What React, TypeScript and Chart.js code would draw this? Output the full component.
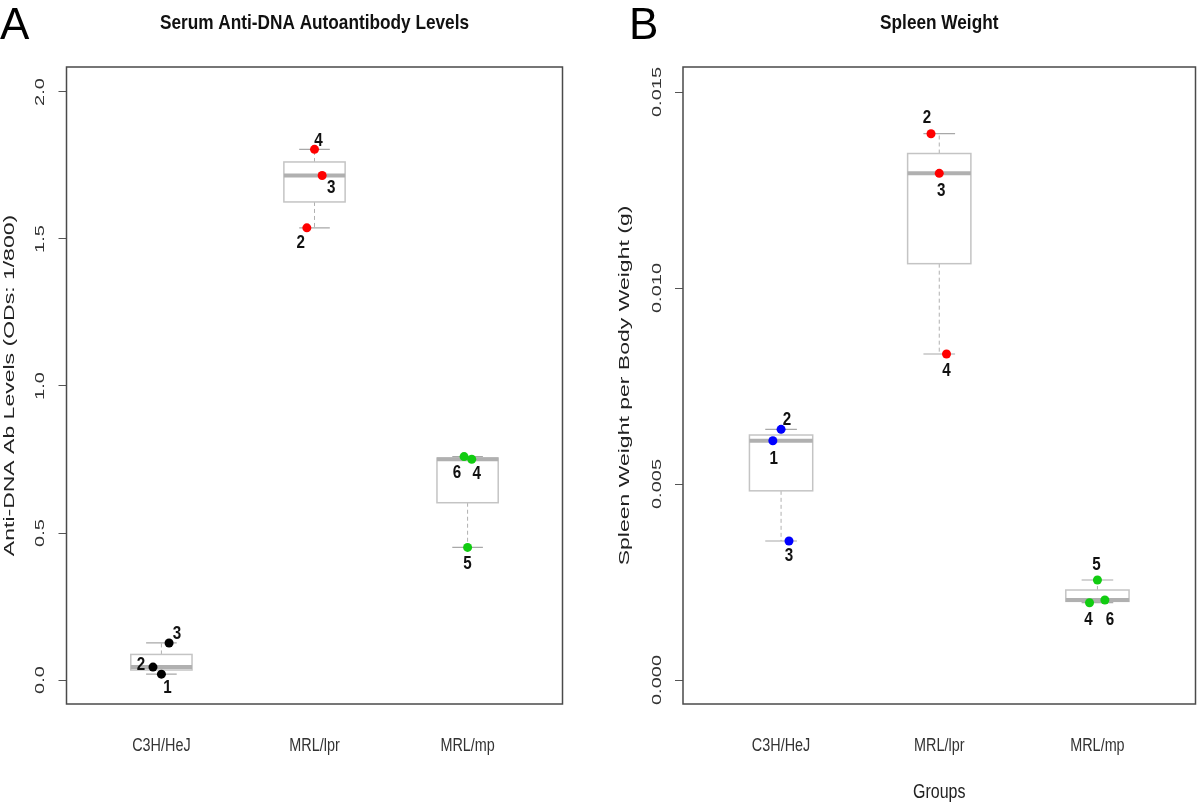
import React, { useEffect, useRef } from "react";
import { Chart, registerables } from "chart.js";

Chart.register(...registerables);

// ---------- shared categories ----------
const groups = ["C3H/HeJ", "MRL/lpr", "MRL/mp"];

// ---------- Panel A: Serum anti-DNA autoantibody levels ----------
const antiDnaGroup = [1, 1, 1, 2, 2, 2, 3, 3, 3];
const antiDnaMouse = ["1", "2", "3", "2", "3", "4", "6", "4", "5"];
const antiDnaValue = [0.02, 0.044, 0.126, 1.538, 1.716, 1.805, 0.76, 0.751, 0.451];
const antiDnaJitter = [0, -0.055, 0.05, -0.05, 0.05, 0, -0.023, 0.027, 0];
const antiDnaMin = [0.02, 1.538, 0.451];
const antiDnaQ1 = [0.034, 1.626, 0.603];
const antiDnaMedian = [0.044, 1.716, 0.751];
const antiDnaQ3 = [0.087, 1.762, 0.755];
const antiDnaMax = [0.126, 1.805, 0.76];
const antiDnaTicks = [0, 0.5, 1.0, 1.5, 2.0];
const antiDnaTickLabels = ["0.0", "0.5", "1.0", "1.5", "2.0"];

// ---------- Panel B: Spleen weight ----------
const spleenGroup = [1, 1, 1, 2, 2, 2, 3, 3, 3];
const spleenMouse = ["1", "2", "3", "2", "3", "4", "4", "5", "6"];
const spleenValue = [0.006105, 0.006395, 0.003546, 0.013936, 0.012926, 0.008316, 0.001972, 0.002551, 0.002041];
const spleenJitter = [-0.052, 0, 0.05, -0.052, 0, 0.046, -0.05, 0, 0.047];
const spleenMin = [0.003546, 0.008316, 0.001972];
const spleenQ1 = [0.004826, 0.010621, 0.0020065];
const spleenMedian = [0.006105, 0.012926, 0.002041];
const spleenQ3 = [0.00625, 0.013431, 0.002296];
const spleenMax = [0.006395, 0.013936, 0.002551];
const spleenTicks = [0, 0.005, 0.01, 0.015];
const spleenTickLabels = ["0.000", "0.005", "0.010", "0.015"];

// ---------- styling (not data) ----------
const antiDnaColors = ["#000000", "#ff0000", "#11cc11"];
const spleenColors = ["#0000ff", "#ff0000", "#11cc11"];
// label offsets in pixels relative to each point (placement, like R's text pos)
const antiDnaLabelOffset: [number, number][] = [
  [6, 14], [-12, -2], [8, -9],
  [-6, 15], [9, 12], [4, -9],
  [-7, 16], [5, 15], [0, 16],
];
const spleenLabelOffset: [number, number][] = [
  [1, 18], [6, -10], [0, 15],
  [-4, -16], [2, 17], [0, 17],
  [-1, 17], [-1, -15], [5, 20],
];

const REG = '"Liberation Sans", Arial, Helvetica, sans-serif';
const SQ = 0.8; // horizontal squeeze of the original figure's text

type PanelCfg = {
  letter: string;
  title: string;
  yTitle: string;
  xTitle?: string;
  group: number[];
  mouse: string[];
  value: number[];
  jitter: number[];
  min: number[];
  q1: number[];
  median: number[];
  q3: number[];
  max: number[];
  ticks: number[];
  tickLabels: string[];
  colors: string[];
  labelOffset: [number, number][];
  yMin: number;
  yMax: number;
  axisWidth: number;
  padRight: number;
  letterX: number;
  yTitleX: number;
};

function rotText(ctx: CanvasRenderingContext2D, text: string, x: number, y: number, font: string, squeeze: number, color: string) {
  ctx.save();
  ctx.translate(x, y);
  ctx.rotate(-Math.PI / 2);
  ctx.scale(1, squeeze);
  ctx.font = font;
  ctx.fillStyle = color;
  ctx.textAlign = "center";
  ctx.textBaseline = "middle";
  ctx.fillText(text, 0, 0);
  ctx.restore();
}

function hText(
  ctx: CanvasRenderingContext2D,
  text: string,
  x: number,
  y: number,
  font: string,
  sx: number,
  color: string,
  align: CanvasTextAlign = "center",
  baseline: CanvasTextBaseline = "middle"
) {
  ctx.save();
  ctx.translate(x, y);
  ctx.scale(sx, 1);
  ctx.font = font;
  ctx.fillStyle = color;
  ctx.textAlign = align;
  ctx.textBaseline = baseline;
  ctx.fillText(text, 0, 0);
  ctx.restore();
}

function makeChart(canvas: HTMLCanvasElement, cfg: PanelCfg) {
  const boxPlugin = {
    id: "boxes",
    beforeDatasetsDraw(chart: any) {
      const ctx: CanvasRenderingContext2D = chart.ctx;
      const xs = chart.scales.x;
      const ys = chart.scales.y;
      ctx.save();
      for (let i = 0; i < groups.length; i++) {
        const xc = xs.getPixelForValue(i + 1);
        const hw = xs.getPixelForValue(i + 1.2) - xc;
        const yMin = ys.getPixelForValue(cfg.min[i]);
        const yQ1 = ys.getPixelForValue(cfg.q1[i]);
        const yMed = ys.getPixelForValue(cfg.median[i]);
        const yQ3 = ys.getPixelForValue(cfg.q3[i]);
        const yMax = ys.getPixelForValue(cfg.max[i]);
        // whiskers (dashed)
        ctx.strokeStyle = "#b0b0b0";
        ctx.lineWidth = 1;
        ctx.setLineDash([4, 3]);
        ctx.beginPath();
        ctx.moveTo(xc, yQ3);
        ctx.lineTo(xc, yMax);
        ctx.moveTo(xc, yQ1);
        ctx.lineTo(xc, yMin);
        ctx.stroke();
        ctx.setLineDash([]);
        // caps
        ctx.strokeStyle = "#a8a8a8";
        ctx.lineWidth = 1.2;
        ctx.beginPath();
        ctx.moveTo(xc - hw / 2, yMax);
        ctx.lineTo(xc + hw / 2, yMax);
        ctx.moveTo(xc - hw / 2, yMin);
        ctx.lineTo(xc + hw / 2, yMin);
        ctx.stroke();
        // box
        ctx.fillStyle = "#ffffff";
        ctx.fillRect(xc - hw, yQ3, hw * 2, yQ1 - yQ3);
        ctx.strokeStyle = "#c4c4c4";
        ctx.lineWidth = 1.5;
        ctx.strokeRect(xc - hw, yQ3, hw * 2, yQ1 - yQ3);
        // median
        ctx.strokeStyle = "#b0b0b0";
        ctx.lineWidth = 4;
        ctx.beginPath();
        ctx.moveTo(xc - hw, yMed);
        ctx.lineTo(xc + hw, yMed);
        ctx.stroke();
      }
      ctx.restore();
    },
    afterDatasetsDraw(chart: any) {
      const ctx: CanvasRenderingContext2D = chart.ctx;
      const meta = chart.getDatasetMeta(0);
      meta.data.forEach((pt: any, j: number) => {
        const [dx, dy] = cfg.labelOffset[j];
        hText(ctx, cfg.mouse[j], pt.x + dx, pt.y + dy, `bold 19px ${REG}`, SQ, "#111");
      });
    },
    afterDraw(chart: any) {
      const ctx: CanvasRenderingContext2D = chart.ctx;
      const ca = chart.chartArea;
      const xs = chart.scales.x;
      const ys = chart.scales.y;
      ctx.save();
      // frame
      ctx.strokeStyle = "#4a4a4a";
      ctx.lineWidth = 1.5;
      ctx.strokeRect(ca.left, ca.top, ca.right - ca.left, ca.bottom - ca.top);
      ctx.restore();
      // x tick labels (from the x scale's ticks)
      xs.ticks.forEach((t: any) => {
        hText(ctx, groups[Math.round(t.value) - 1], xs.getPixelForValue(t.value), 746, `18px ${REG}`, SQ, "#333");
      });
      // y tick labels (rotated)
      cfg.ticks.forEach((v, k) => {
        rotText(ctx, cfg.tickLabels[k], ca.left - 26, ys.getPixelForValue(v), `20px ${REG}`, 0.68, "#333");
      });
      // y title
      rotText(ctx, cfg.yTitle, cfg.yTitleX, (ca.top + ca.bottom) / 2, `23px ${REG}`, 0.66, "#222");
      // main title
      hText(ctx, cfg.title, (ca.left + ca.right) / 2, 29, `bold 21px ${REG}`, 0.82, "#111", "center", "alphabetic");
      // panel letter
      hText(ctx, cfg.letter, cfg.letterX, 39, `44px ${REG}`, 1, "#000", "left", "alphabetic");
      // x title
      if (cfg.xTitle) {
        hText(ctx, cfg.xTitle, (ca.left + ca.right) / 2, 792, `20px ${REG}`, SQ, "#222");
      }
    },
  };

  return new Chart(canvas, {
    type: "scatter",
    data: {
      datasets: [
        {
          data: cfg.value.map((v, j) => ({ x: cfg.group[j] + cfg.jitter[j], y: v })),
          pointRadius: 4.5,
          pointBorderWidth: 0,
          pointBackgroundColor: cfg.group.map((g) => cfg.colors[g - 1]),
          pointBorderColor: cfg.group.map((g) => cfg.colors[g - 1]),
          showLine: false,
        },
      ],
    },
    options: {
      animation: false,
      responsive: false,
      devicePixelRatio: 1,
      events: [],
      layout: { padding: { top: 67, right: cfg.padRight, left: 0, bottom: 0 } },
      plugins: { legend: { display: false }, tooltip: { enabled: false }, title: { display: false } },
      scales: {
        x: {
          type: "linear",
          min: 0.38,
          max: 3.62,
          afterBuildTicks: (s: any) => {
            s.ticks = groups.map((_, i) => ({ value: i + 1 }));
          },
          afterFit: (s: any) => {
            s.height = 103;
          },
          grid: { display: false, drawTicks: false },
          border: { display: false },
          ticks: { display: false },
        },
        y: {
          type: "linear",
          min: cfg.yMin,
          max: cfg.yMax,
          afterBuildTicks: (s: any) => {
            s.ticks = cfg.ticks.map((v) => ({ value: v }));
          },
          afterFit: (s: any) => {
            s.width = cfg.axisWidth;
          },
          grid: { drawOnChartArea: false, drawTicks: true, tickLength: 8, color: "#555", lineWidth: 1 },
          border: { display: false },
          ticks: { display: false },
        },
      },
    },
    plugins: [boxPlugin],
  } as any);
}

const panelA: PanelCfg = {
  letter: "A",
  title: "Serum Anti-DNA Autoantibody Levels",
  yTitle: "Anti-DNA Ab Levels (ODs: 1/800)",
  group: antiDnaGroup,
  mouse: antiDnaMouse,
  value: antiDnaValue,
  jitter: antiDnaJitter,
  min: antiDnaMin,
  q1: antiDnaQ1,
  median: antiDnaMedian,
  q3: antiDnaQ3,
  max: antiDnaMax,
  ticks: antiDnaTicks,
  tickLabels: antiDnaTickLabels,
  colors: antiDnaColors,
  labelOffset: antiDnaLabelOffset,
  yMin: -0.0816,
  yMax: 2.085,
  axisWidth: 66.5,
  padRight: 37.5,
  letterX: 0,
  yTitleX: 10,
};

const panelB: PanelCfg = {
  letter: "B",
  title: "Spleen Weight",
  yTitle: "Spleen Weight per Body Weight (g)",
  xTitle: "Groups",
  group: spleenGroup,
  mouse: spleenMouse,
  value: spleenValue,
  jitter: spleenJitter,
  min: spleenMin,
  q1: spleenQ1,
  median: spleenMedian,
  q3: spleenQ3,
  max: spleenMax,
  ticks: spleenTicks,
  tickLabels: spleenTickLabels,
  colors: spleenColors,
  labelOffset: spleenLabelOffset,
  yMin: -0.000612,
  yMax: 0.015638,
  axisWidth: 83,
  padRight: 1,
  letterX: 29,
  yTitleX: 25,
};

export default function App() {
  const aRef = useRef<HTMLCanvasElement>(null);
  const bRef = useRef<HTMLCanvasElement>(null);
  useEffect(() => {
    const ca = makeChart(aRef.current!, panelA);
    const cb = makeChart(bRef.current!, panelB);
    return () => {
      ca.destroy();
      cb.destroy();
    };
  }, []);
  return (
    <div style={{ position: "fixed", left: 0, top: 0, width: 1200, height: 807, background: "#ffffff", overflow: "hidden" }}>
      <canvas ref={aRef} width={600} height={807} style={{ position: "absolute", left: 0, top: 0, width: 600, height: 807 }} />
      <canvas ref={bRef} width={600} height={807} style={{ position: "absolute", left: 600, top: 0, width: 600, height: 807 }} />
    </div>
  );
}
